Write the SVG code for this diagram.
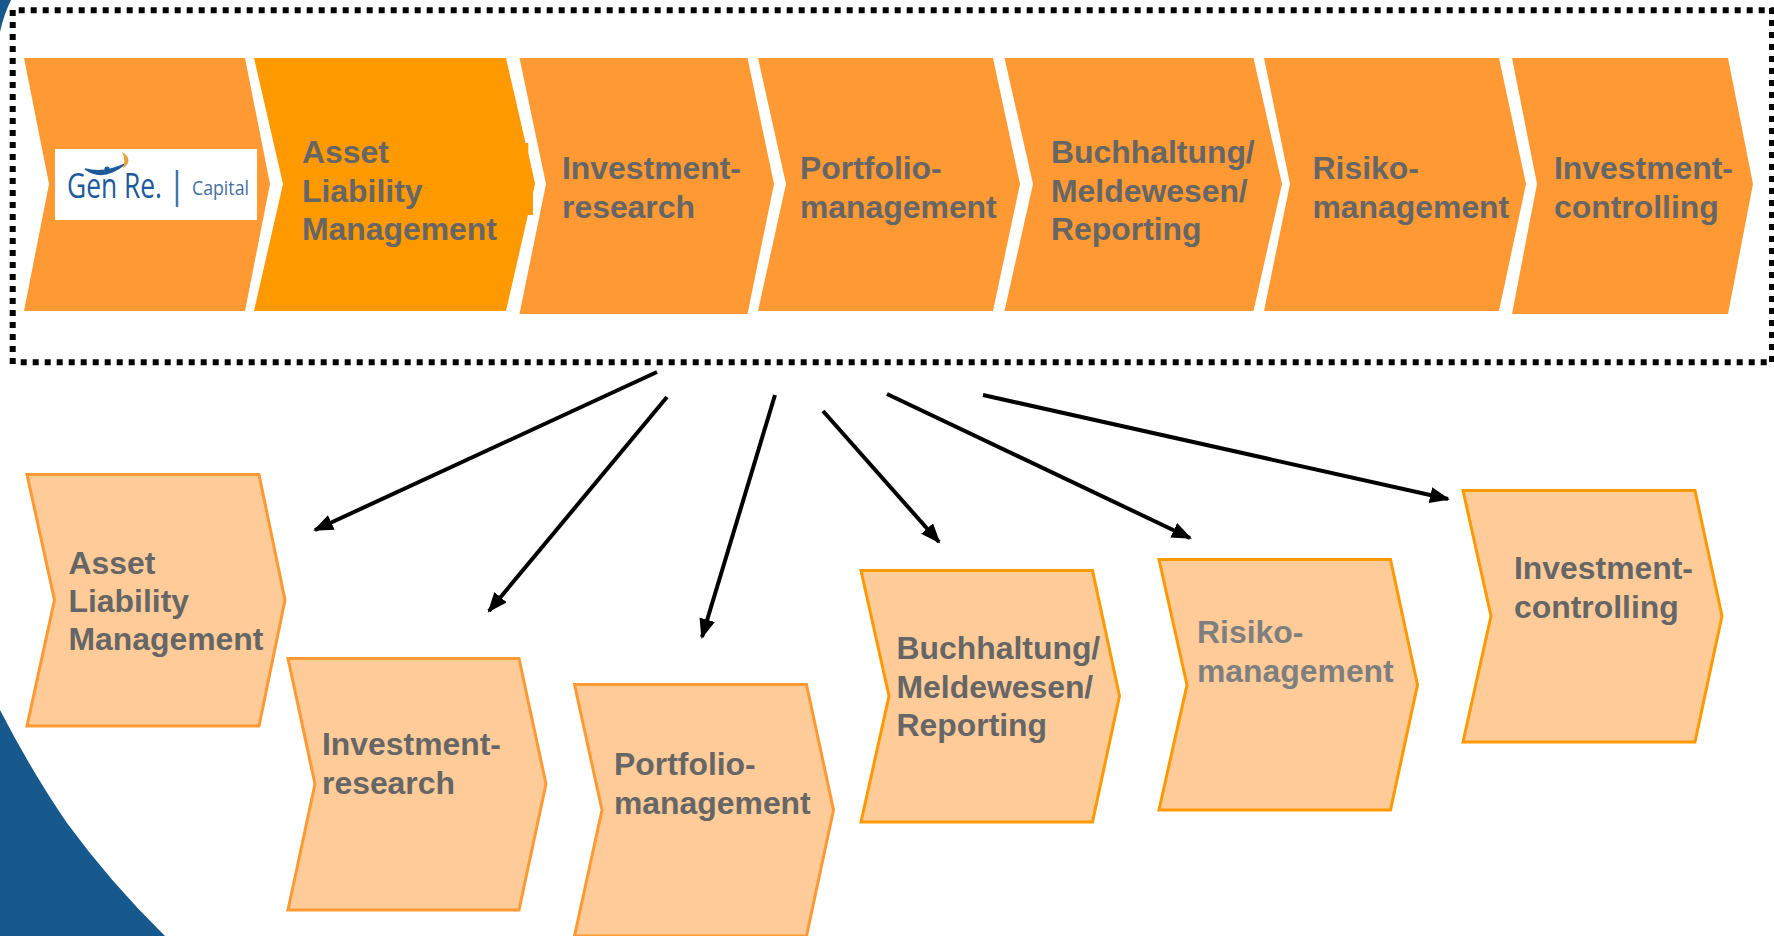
<svg xmlns="http://www.w3.org/2000/svg" width="1774" height="936" viewBox="0 0 1774 936">
<style>
.t{font-family:"Liberation Sans",Arial,sans-serif;font-weight:700;font-size:31.9px;fill:#666}
.a{fill:#f93;stroke:none}
.b{fill:#f90;stroke:none}
.c{fill:#fc9;stroke:#f93;stroke-width:3}
.d{fill:#fc9;stroke:#f90;stroke-width:3}
.l{stroke:#000;stroke-width:4;fill:none;marker-end:url(#m)}
.f{stroke:#000;stroke-width:6;fill:none;stroke-dasharray:6 6}
</style>
<defs><marker id="m" markerUnits="userSpaceOnUse" markerWidth="22" markerHeight="20" refX="18" refY="8" orient="auto"><path d="M0 0L20 8L0 16Z" fill="#000"/></marker></defs>
<rect width="1774" height="936" fill="#fff"/>
<path id="bg-top" d="M0 0H11Q4 14 0 32Z" fill="#17598c"/>
<path id="bg-bottom" d="M0 710Q32 772 67 823Q110 882 165 936H0Z" fill="#17598c"/>
<g id="frame">
<path class="f" d="M18.700 10.300H1774"/>
<path class="f" d="M20.700 362.300H1768"/>
<path class="f" d="M12.700 10V366"/>
<path class="f" d="M1772 8V364"/>
</g>
<g id="top-1"><path class="a" d="M24 58H245L270 184L245 311H24L49 184Z"/>
<rect x="55" y="149" width="202" height="71" fill="#fff"/>
<path d="M85 169Q103 182 125 164Q105 174 85 169Z" fill="#1c5a9c" stroke="#1c5a9c" stroke-width="1.500"/>
<circle cx="107" cy="169" r="2.600" fill="#1c5a9c"/>
<path d="M122 152Q130 156 128 163Q126 167 123 168Q126 160 122 152Z" fill="#e8a33a"/>
<text x="67" y="198" font-family="'Open Sans',sans-serif" font-weight="500" font-size="35" fill="#1c5a9c" textLength="95" lengthAdjust="spacingAndGlyphs">Gen Re.</text>
<path d="M177 170V207" stroke="#3f77ac" stroke-width="2.500"/>
<text x="192" y="195" font-family="'Open Sans',sans-serif" font-size="20" fill="#46709f" textLength="57" lengthAdjust="spacingAndGlyphs">Capital</text>
</g>
<g id="top-2"><path class="b" d="M254 58H506L535 184L506 311H254L283 184Z"/>
<path class="b" d="M515 143H528.300V153L534.700 183L533 191V215H515Z"/>
<text class="t"><tspan x="302" y="163.300">Asset</tspan><tspan x="302" y="201.700">Liability</tspan><tspan x="302" y="240">Management</tspan></text></g>
<g id="top-3"><path class="a" d="M519.500 58H747.500L774 184L747.500 314H519.500L546 184Z"/>
<text class="t"><tspan x="562" y="179">Investment-</tspan><tspan x="562" y="218">research</tspan></text></g>
<g id="top-4"><path class="a" d="M758 58H993L1020 184L993 311H758L786 184Z"/>
<text class="t"><tspan x="800" y="179">Portfolio-</tspan><tspan x="800" y="218">management</tspan></text></g>
<g id="top-5"><path class="a" d="M1004.500 58H1253.500L1282 184L1253.500 311H1004.500L1033 184Z"/>
<text class="t"><tspan x="1051" y="163.300">Buchhaltung/</tspan><tspan x="1051" y="201.700">Meldewesen/</tspan><tspan x="1051" y="240">Reporting</tspan></text></g>
<g id="top-6"><path class="a" d="M1264 58H1499L1526 184L1499 311H1264L1290 184Z"/>
<text class="t"><tspan x="1312.500" y="179">Risiko-</tspan><tspan x="1312.500" y="218">management</tspan></text></g>
<g id="top-7"><path class="a" d="M1512 58H1728L1753 184L1728 314H1512L1537 184Z"/>
<text class="t"><tspan x="1554" y="179">Investment-</tspan><tspan x="1554" y="218">controlling</tspan></text></g>
<g id="connectors">
<path class="l" d="M657 372L315 530"/>
<path class="l" d="M667 397L489 611"/>
<path class="l" d="M775 395L702 637"/>
<path class="l" d="M823 411L939 542"/>
<path class="l" d="M887 394L1190 538"/>
<path class="l" d="M983 395L1448 499"/>
</g>
<g id="n1"><path class="c" d="M27 474.500H259L285 600L259 726H27L54.500 600Z"/><text class="t"><tspan x="68.500" y="574">Asset</tspan><tspan x="68.500" y="612">Liability</tspan><tspan x="68.500" y="650">Management</tspan></text></g>
<g id="n2"><path class="c" d="M288 658.500H519L546 784L519 910H288L315 784Z"/><text class="t"><tspan x="322" y="755">Investment-</tspan><tspan x="322" y="794">research</tspan></text></g>
<g id="n3"><path class="c" d="M574.500 684.500H806.500L833.500 810L806.500 936H574.500L602 810Z"/><text class="t"><tspan x="614" y="775">Portfolio-</tspan><tspan x="614" y="814">management</tspan></text></g>
<g id="n4"><path class="d" d="M861 570.500H1092.500L1119.500 696L1092.500 822H861L889 696Z"/><text class="t"><tspan x="896.500" y="659">Buchhaltung/</tspan><tspan x="896.500" y="698">Meldewesen/</tspan><tspan x="896.500" y="736">Reporting</tspan></text></g>
<g id="n5"><path class="d" d="M1159 559.500H1390.500L1417.500 685L1390.500 810H1159L1187 685Z"/><text class="t" style="fill:#7f7f7f"><tspan x="1197" y="643">Risiko-</tspan><tspan x="1197" y="682">management</tspan></text></g>
<g id="n6"><path class="d" d="M1463 490.500H1695L1722 616L1695 742H1463L1491 616Z"/><text class="t"><tspan x="1514" y="579">Investment-</tspan><tspan x="1514" y="618">controlling</tspan></text></g>
</svg>
